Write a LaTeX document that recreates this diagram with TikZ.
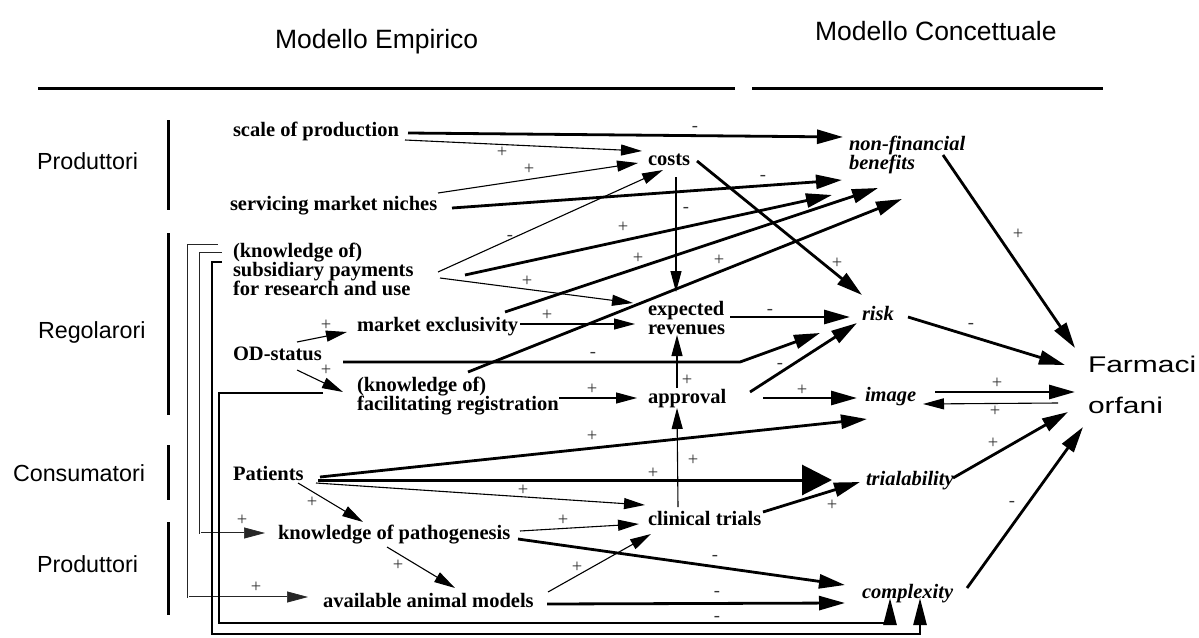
\documentclass[tikz,border=0pt]{standalone}
\usepackage{fontspec}
\usepackage{graphicx}
\setmainfont{Liberation Serif}
\newfontfamily\headfont{Liberation Sans}
\usetikzlibrary{arrows.meta,calc}

\begin{document}
\begin{tikzpicture}[x=1pt,y=-1pt,
  every node/.style={inner sep=0pt, outer sep=0pt, anchor=base west},
  factor/.style={font=\fontsize{20.5}{19}\selectfont\bfseries, align=left},
  concept/.style={font=\fontsize{20.5}{19}\selectfont\bfseries\itshape, align=left},
  group/.style={font=\headfont\fontsize{23.3}{28}\selectfont},
  heading/.style={font=\headfont\fontsize{26.5}{32}\selectfont},
  target/.style={font=\headfont\fontsize{22.7}{41}\selectfont, align=left},
  sgn/.style={anchor=center, font=\fontsize{18.5}{18}\selectfont, text=black!80},
  rule/.style={line width=3pt},
  bar/.style={line width=3pt},
  link/.style={line width=1.1pt, -{Triangle[length=21pt,width=11pt]}},
  boldlink/.style={line width=2.8pt, -{Triangle[length=26pt,width=14pt]}},
  biglink/.style={line width=3pt, -{Triangle[length=30pt,width=30pt]}},
  bracket/.style={draw=black!85, double=white, double distance=0.9pt, line width=0.7pt, -{Triangle[length=21pt,width=11pt]}},
  boldbracket/.style={line width=2.6pt, -{Triangle[length=27pt,width=13pt]}},
]
\useasboundingbox (0,0) rectangle (1199,637);

% ---- headings and rules ----
\node[heading] (hE) at (275,48) {Modello Empirico};
\node[heading] (hC) at (815,40) {Modello Concettuale};
\draw[rule] ($(hE.base west)+(-237,40)$) -- ($(hE.base west)+(460,40)$);
\draw[rule] ($(hC.base west)+(-63,48)$) -- ($(hC.base west)+(288,48)$);

% ---- actor groups ----
\node[group] (g1) at (37,169) {Produttori};
\node[group] (g2) at (38,338) {Regolarori};
\node[group] (g3) at (13,481) {Consumatori};
\node[group] (g4) at (37,572) {Produttori};
\draw[bar] ($(g1.base west)+(131,-49)$) -- ($(g1.base west)+(131,41)$);
\draw[bar] ($(g2.base west)+(130,-105)$) -- ($(g2.base west)+(130,77)$);
\draw[bar] ($(g3.base west)+(155,-36)$) -- ($(g3.base west)+(155,19)$);
\draw[bar] ($(g4.base west)+(131,-50)$) -- ($(g4.base west)+(131,43)$);

% ---- empirical factors (multi-line nodes sit on their last baseline) ----
\node[factor] (sp)  at (233,136) {scale of production};
\node[factor] (smn) at (230,210) {servicing market niches};
\node[factor] (sub) at (233,295) {(knowledge of)\\subsidiary payments\\for research and use};
\node[factor] (mex) at (357,331) {market exclusivity};
\node[factor] (ods) at (233,360) {OD-status};
\node[factor] (fac) at (357,410) {(knowledge of)\\facilitating registration};
\node[factor] (pat) at (233,480) {Patients};
\node[factor] (kop) at (278,539) {knowledge of pathogenesis};
\node[factor] (aam) at (323,607) {available animal models};
\node[factor] (cos) at (648,165) {costs};
\node[factor] (exr) at (648,334) {expected\\revenues};
\node[factor] (apr) at (648,403) {approval};
\node[factor] (clt) at (648,525) {clinical trials};

% ---- conceptual variables ----
\node[concept] (nfb) at (849,169) {non-financial\\benefits};
\node[concept] (rsk) at (862,320) {risk};
\node[concept] (img) at (865,401) {image};
\node[concept] (tri) at (866,485) {trialability};
\node[concept] (cpx) at (862,598) {complexity};
\node[target]  (fo)  at (1088,413) {\scalebox{1.32}[1]{Farmaci}\\\scalebox{1.32}[1]{orfani}};

% ---- producers ----
\draw[boldlink] ($(sp.base west)+(175,-3)$) -- ($(nfb.base west)+(-6,-32)$);
\node[sgn] (s1) at (695,129) {-};
\draw[link] ($(sp.base west)+(172,4)$) -- ($(cos.base west)+(-6,-14)$);
\node[sgn] (s2) at (502,152) {+};
\draw[link] ($(smn.base west)+(208,-17)$) -- ($(cos.base west)+(-10,-2)$);
\node[sgn] (s3) at (529,169) {+};
\draw[boldlink] ($(smn.base west)+(222,-2)$) -- ($(nfb.base west)+(-7,11)$);
\node[sgn] (s4) at (763,178) {-};

% ---- subsidiary payments ----
\draw[link] ($(sub.base west)+(205,-23)$) -- ($(cos.base west)+(15,5)$);
\node[sgn] (s5) at (510,238) {-};
\draw[boldlink] ($(sub.base west)+(232,-20)$) -- ($(nfb.base west)+(-17,26)$);
\node[sgn] (s6) at (623,227) {+};
\draw[link] ($(sub.base west)+(207,-17)$) -- ($(exr.base west)+(-15,-31)$);
\node[sgn] (s7) at (527,281) {+};

% ---- costs ----
\draw[link] ($(cos.base west)+(28,12)$) -- ($(exr.base west)+(28,-42)$);
\node[sgn] (s8) at (686,210) {-};
\draw[boldlink] ($(cos.base west)+(49,-4)$) -- ($(rsk.base west)+(0,-25)$);
\node[sgn] (s9) at (837,263) {+};

% ---- market exclusivity ----
\draw[link] ($(mex.base west)+(163,-7)$) -- ($(exr.base west)+(-13,-10)$);
\node[sgn] (s10) at (547,315) {+};
\draw[boldlink] ($(mex.base west)+(148,-19)$) -- ($(nfb.base west)+(29,19)$);
\node[sgn] (s11) at (638,258) {+};

% ---- OD-status ----
\draw[link] ($(ods.base west)+(64,-18)$) -- ($(mex.base west)+(-10,1)$);
\node[sgn] (s12) at (326,325) {+};
\draw[link] ($(ods.base west)+(64,10)$) -- ($(fac.base west)+(-14,-18)$);
\node[sgn] (s13) at (326,370) {+};
\draw[boldlink] ($(ods.base west)+(110,2)$) -- ($(rsk.base west)+(-122,42)$) -- ($(rsk.base west)+(-42,13)$);
\node[sgn] (s14) at (593,355) {-};

% ---- facilitating registration ----
\draw[boldlink] ($(fac.base west)+(111,-38)$) -- ($(nfb.base west)+(53,30)$);
\node[sgn] (s15) at (719,260) {+};
\draw[link] ($(fac.base west)+(202,-12)$) -- ($(apr.base west)+(-11,-5)$);
\node[sgn] (s16) at (592,389) {+};

% ---- expected revenues and approval ----
\draw[boldlink] ($(exr.base west)+(82,-17)$) -- ($(rsk.base west)+(-12,-3)$);
\node[sgn] (s17) at (770,312) {-};
\draw[link] ($(apr.base west)+(29,-15)$) -- ($(exr.base west)+(29,1)$);
\node[sgn] (s18) at (687,380) {+};
\draw[boldlink] ($(apr.base west)+(102,-11)$) -- ($(rsk.base west)+(-5,3)$);
\node[sgn] (s19) at (780,366) {-};
\draw[boldlink] ($(apr.base west)+(115,-5)$) -- ($(img.base west)+(-8,-3)$);
\node[sgn] (s20) at (802,390) {+};

% ---- clinical trials ----
\draw[link] ($(clt.base west)+(30,-18)$) -- ($(apr.base west)+(29,5)$);
\node[sgn] (s21) at (693,460) {+};
\draw[boldlink] ($(clt.base west)+(115,-13)$) -- ($(tri.base west)+(-6,-3)$);
\node[sgn] (s22) at (832,505) {+};

% ---- patients ----
\draw[boldlink] ($(pat.base west)+(87,-3)$) -- ($(img.base west)+(2,18)$);
\node[sgn] (s23) at (592,436) {+};
\draw[biglink] ($(pat.base west)+(85,0)$) -- ($(tri.base west)+(-34,-5)$);
\node[sgn] (s24) at (653,473) {+};
\draw[link] ($(pat.base west)+(83,3)$) -- ($(clt.base west)+(-3,-20)$);
\node[sgn] (s25) at (523,490) {+};
\draw[link] ($(pat.base west)+(65,3)$) -- ($(kop.base west)+(85,-17)$);
\node[sgn] (s26) at (312,502) {+};

% ---- knowledge of pathogenesis, animal models ----
\draw[link] ($(kop.base west)+(242,-8)$) -- ($(clt.base west)+(-9,-1)$);
\node[sgn] (s27) at (563,520) {+};
\draw[boldlink] ($(kop.base west)+(240,0)$) -- ($(cpx.base west)+(-17,-13)$);
\node[sgn] (s28) at (715,558) {-};
\draw[link] ($(kop.base west)+(109,8)$) -- ($(aam.base west)+(132,-19)$);
\node[sgn] (s29) at (398,565) {+};
\draw[link] ($(aam.base west)+(225,-15)$) -- ($(clt.base west)+(3,9)$);
\node[sgn] (s30) at (577,567) {+};
\draw[boldlink] ($(aam.base west)+(224,-3)$) -- ($(cpx.base west)+(-17,5)$);
\node[sgn] (s31) at (717,594) {-};

% ---- feedback brackets on the left ----
\draw[bracket] ($(sub.base west)+(-15,-50)$) -| ($(aam.base west)+(-135,-10)$) -- ($(aam.base west)+(-15,-10)$);
\node[sgn] (s32) at (256,587) {+};
\draw[bracket] ($(sub.base west)+(-11,-42)$) -| ($(kop.base west)+(-78,-6)$) -- ($(kop.base west)+(-13,-6)$);
\node[sgn] (s33) at (242,520) {+};
\draw[boldbracket] ($(sub.base west)+(-11,-33)$) -| ($(cpx.base west)+(-650,36)$) -| ($(cpx.base west)+(58,0)$);
\draw[boldbracket] ($(fac.base west)+(-34,-17)$) -| ($(cpx.base west)+(-643,25)$) -| ($(cpx.base west)+(28,0)$);
\node[sgn] (s34) at (717,619) {-};

% ---- conceptual model to orphan drugs ----
\draw[boldlink] ($(nfb.base west)+(94,-14)$) -- ($(fo.base west)+(-13,-65)$);
\node[sgn] (s35) at (1018,234) {+};
\draw[boldlink] ($(rsk.base west)+(46,-3)$) -- ($(fo.base west)+(-23,-48)$);
\node[sgn] (s36) at (971,326) {-};
\draw[boldlink] ($(img.base west)+(70,-9)$) -- ($(fo.base west)+(-13,-21)$);
\node[sgn] (s37) at (997,383) {+};
\draw[link] ($(fo.base west)+(-30,-10)$) -- ($(img.base west)+(58,3)$);
\node[sgn] (s38) at (995,411) {+};
\draw[boldlink] ($(tri.base west)+(87,-7)$) -- ($(fo.base west)+(-20,-1)$);
\node[sgn] (s39) at (993,443) {+};
\draw[boldlink] ($(cpx.base west)+(105,-10)$) -- ($(fo.base west)+(-5,14)$);
\node[sgn] (s40) at (1012,504) {-};
\end{tikzpicture}
\end{document}
